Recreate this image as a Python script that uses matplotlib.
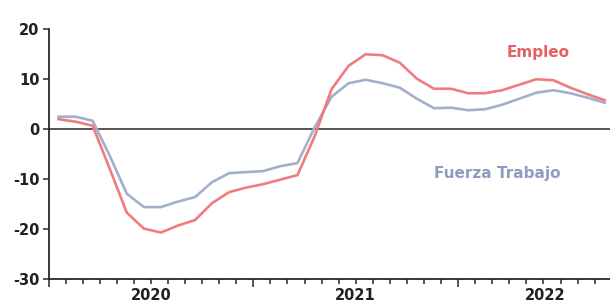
import matplotlib
matplotlib.use("Agg")
import matplotlib.pyplot as plt
import matplotlib.transforms as mtransforms
import numpy as np

# Monthly series (% change), 33 months starting Jan 2020
empleo = [2.0, 1.5, 0.7, -7.9, -16.7, -19.9, -20.7, -19.3, -18.2, -14.8, -12.6,
          -11.7, -11.0, -10.1, -9.2, -1.5, 8.0, 12.7, 15.0, 14.8, 13.3, 10.1,
          8.1, 8.1, 7.2, 7.2, 7.8, 8.9, 10.0, 9.8, 8.3, 7.0, 5.8]
fuerza = [2.5, 2.5, 1.7, -5.3, -12.9, -15.6, -15.6, -14.5, -13.6, -10.6, -8.8,
          -8.6, -8.4, -7.4, -6.8, 0.3, 6.5, 9.2, 9.9, 9.2, 8.3, 6.1,
          4.2, 4.3, 3.8, 4.0, 4.9, 6.1, 7.3, 7.8, 7.2, 6.3, 5.3]
years = ["2020", "2021", "2022"]
year_label_pos = [6, 18, 29.1]
yticks = [20, 10, 0, -10, -20, -30]

RED = "#EF7C7E"
BLUE = "#A4AFCB"
RED_TXT = "#E65F63"
BLUE_TXT = "#8F9CC2"
DARK = "#2B2626"

plt.rcParams['font.family'] = ['DejaVu Sans']

fig = plt.figure(figsize=(6.10, 3.03), dpi=100)
ax = fig.add_axes([48.5 / 610, 24 / 303, 1 - 48.5 / 610, (279 - 29.3) / 303])

x = np.arange(len(empleo)) + 0.585
ax.axhline(0, color=DARK, lw=1.1, zorder=1)
ax.plot(x, fuerza, color=BLUE, lw=1.9, zorder=2)
ax.plot(x, empleo, color=RED, lw=1.9, zorder=3)

ax.set_xlim(0, 32.9)
ax.set_ylim(-30, 20)

for s in ["top", "right"]:
    ax.spines[s].set_visible(False)
for s in ["left", "bottom"]:
    ax.spines[s].set_color(DARK)
    ax.spines[s].set_linewidth(1.3)

ax.set_yticks(yticks)
ax.set_yticklabels([str(v) for v in yticks],
                   fontsize=10.5, fontweight="bold", color="#231F20")
ax.tick_params(axis="y", length=4.3, width=1.1, color=DARK, pad=2)

ax.set_xticks([0, 12, 24])
ax.set_xticks(np.arange(0, 33), minor=True)
ax.set_xticklabels([])
ax.tick_params(axis="x", which="major", length=5.8, width=1.1, color=DARK)
ax.tick_params(axis="x", which="minor", length=3.4, width=1.1, color=DARK)

trans = mtransforms.blended_transform_factory(ax.transData, fig.transFigure)
for lab, pos in zip(years, year_label_pos):
    ax.text(pos, 8 / 303, lab, transform=trans, ha="center", va="center",
            fontsize=10.5, fontweight="bold", color="#231F20", clip_on=False)

ax.text(28.7, 15.3, "Empleo", ha="center", va="center", fontsize=11,
        fontweight="bold", color=RED_TXT)
ax.text(26.3, -8.9, "Fuerza Trabajo", ha="center", va="center", fontsize=11,
        fontweight="bold", color=BLUE_TXT)

fig.savefig("out.png", dpi=100)
